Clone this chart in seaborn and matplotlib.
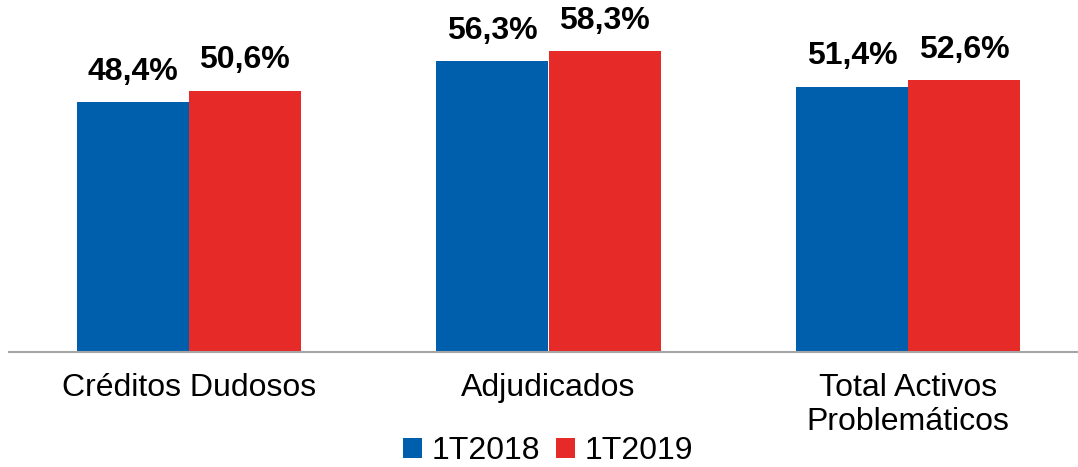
import pandas as pd
import numpy as np
import matplotlib
matplotlib.use("Agg")
import matplotlib.pyplot as plt
import seaborn as sns

categories = ["Créditos Dudosos", "Adjudicados", "Total Activos\nProblemáticos"]
periods = ["1T2018", "1T2019"]
vals_2018 = [48.4, 56.3, 51.4]
vals_2019 = [50.6, 58.3, 52.6]
colors = ["#005FAD", "#E52A28"]

df = pd.DataFrame({
    "cat": categories * 2,
    "period": [periods[0]] * 3 + [periods[1]] * 3,
    "val": vals_2018 + vals_2019,
})

sns.set_style("white")
plt.rcParams['font.family'] = ['Liberation Sans', 'DejaVu Sans']
plt.rcParams['text.color'] = 'black'
plt.rcParams['xtick.color'] = 'black'

fig = plt.figure(figsize=(10.78, 4.67), dpi=100)
ax = fig.add_axes([9 / 1078, 1 - 352 / 467, 1079 / 1078, 352 / 467])

sns.barplot(data=df, x="cat", y="val", hue="period", palette=colors,
            width=0.623, linewidth=0, saturation=1, ax=ax, legend=True)

# value labels
for cont in ax.containers:
    ax.bar_label(cont, labels=[f"{v:.1f}%".replace(".", ",") for v in cont.datavalues],
                 padding=11, fontsize=23, fontweight="bold", color="black")

ax.set_ylim(0, 68.15)
ax.set_xlim(-0.5, 2.5)
ax.set_xlabel("")
ax.set_ylabel("")
ax.set_yticks([])
ax.tick_params(axis="x", length=0, pad=15, labelsize=23, labelcolor="black")
for s in ["top", "right", "left"]:
    ax.spines[s].set_visible(False)
ax.spines["bottom"].set_color("#A6A6A6")
ax.spines["bottom"].set_linewidth(1.5)

handles, labels = ax.get_legend_handles_labels()
ax.get_legend().remove()
fig.legend(handles, labels, loc="center", bbox_to_anchor=(548 / 1078, 1 - 451 / 467),
           ncol=2, frameon=False, fontsize=23, handlelength=0.6, handleheight=0.6,
           handletextpad=0.3, columnspacing=0.5, borderpad=0, labelcolor="black")

fig.savefig("out.png", dpi=100)
